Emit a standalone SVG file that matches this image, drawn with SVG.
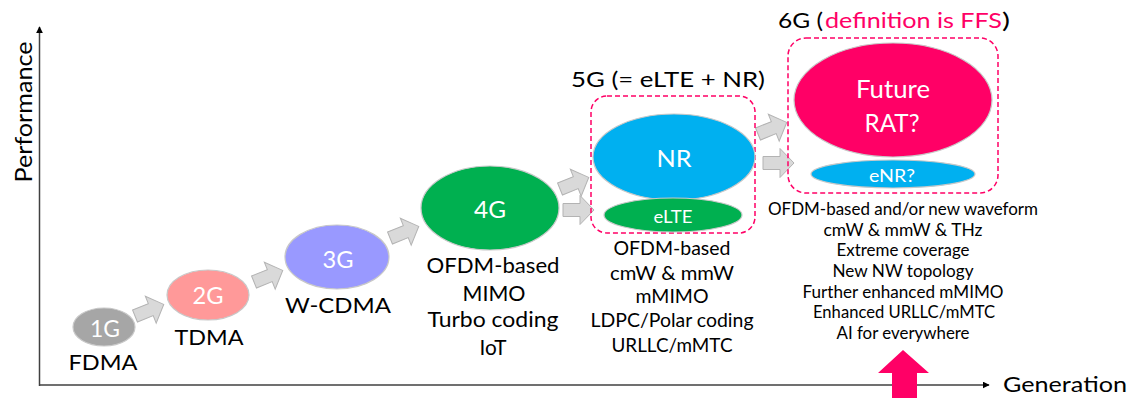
<svg xmlns="http://www.w3.org/2000/svg" width="1133" height="398" viewBox="0 0 1133 398">
<defs>
<style>
text{font-family:Lato,"Liberation Sans","DejaVu Sans",sans-serif;fill:#000;}
.w{fill:#fff;}
.m{text-anchor:middle;}
.box{fill:none;stroke:#ff0066;stroke-width:1.5;stroke-dasharray:5 3;}
.blk{fill:#d9d9d9;stroke:#b3b3b3;stroke-width:1;}
.el{stroke:#c8c8c8;stroke-width:1.2;}
.axis{stroke:#404040;stroke-width:1.5;fill:none;}
</style>
<path id="ba" d="M0,-6.5 L17,-6.5 L17,-14.5 L31,0 L17,14.5 L17,6.5 L0,6.5 Z"/>
<marker id="ah" viewBox="0 0 10 10" refX="9" refY="5" markerWidth="7" markerHeight="7" markerUnits="userSpaceOnUse" orient="auto"><path d="M0,0 L10,5 L0,10 Z" fill="#000"/></marker>
</defs>
<rect width="1133" height="398" fill="#fff"/>

<g id="axes">
<line class="axis" x1="39.5" y1="386" x2="39.5" y2="27" marker-end="url(#ah)"/>
<line class="axis" x1="39" y1="385" x2="989" y2="385" marker-end="url(#ah)"/>
<text transform="translate(32,112) rotate(-90)" class="m" font-size="23.5" textLength="141" lengthAdjust="spacingAndGlyphs">Performance</text>
<text x="1003" y="392" font-size="21" textLength="124" lengthAdjust="spacingAndGlyphs">Generation</text>
</g>

<g id="connectors">
<use href="#ba" class="blk" transform="translate(135,316) rotate(-22)"/>
<use href="#ba" class="blk" transform="translate(254,282) rotate(-22)"/>
<use href="#ba" class="blk" transform="translate(390,238) rotate(-22)"/>
<use href="#ba" class="blk" transform="translate(560,189) rotate(-22)"/>
<use href="#ba" class="blk" transform="translate(563,210)"/>
<use href="#ba" class="blk" transform="translate(758,134) rotate(-22)"/>
<use href="#ba" class="blk" transform="translate(763,163)"/>
</g>

<g id="n1G">
<ellipse class="el" cx="104" cy="327" rx="31" ry="19" fill="#a6a6a6"/>
<text x="105" y="337" class="m w" font-size="23" textLength="30" lengthAdjust="spacingAndGlyphs">1G</text>
<text x="103" y="370" class="m" font-size="22" textLength="69" lengthAdjust="spacingAndGlyphs">FDMA</text>
</g>

<g id="n2G">
<ellipse class="el" cx="208" cy="295" rx="41" ry="25" fill="#ff9999"/>
<text x="208" y="304" class="m w" font-size="23" textLength="31" lengthAdjust="spacingAndGlyphs">2G</text>
<text x="209" y="345" class="m" font-size="22" textLength="69" lengthAdjust="spacingAndGlyphs">TDMA</text>
</g>

<g id="n3G">
<ellipse class="el" cx="337" cy="257" rx="52" ry="32" fill="#9999ff"/>
<text x="338" y="268" class="m w" font-size="24" textLength="31" lengthAdjust="spacingAndGlyphs">3G</text>
<text x="338" y="313" class="m" font-size="22" textLength="106" lengthAdjust="spacingAndGlyphs">W-CDMA</text>
</g>

<g id="n4G">
<ellipse class="el" cx="490" cy="208" rx="69" ry="42" fill="#00b050"/>
<text x="490" y="218" class="m w" font-size="23" textLength="32" lengthAdjust="spacingAndGlyphs">4G</text>
<text x="493" y="273" class="m" font-size="22" textLength="133" lengthAdjust="spacingAndGlyphs">OFDM-based</text>
<text x="494" y="301" class="m" font-size="22" textLength="63" lengthAdjust="spacingAndGlyphs">MIMO</text>
<text x="493" y="327" class="m" font-size="22" textLength="131" lengthAdjust="spacingAndGlyphs">Turbo coding</text>
<text x="493" y="355" class="m" font-size="22" textLength="27" lengthAdjust="spacingAndGlyphs">IoT</text>
</g>

<g id="n5G">
<text x="668" y="87" class="m" font-size="22" textLength="194" lengthAdjust="spacingAndGlyphs">5G (= eLTE + NR)</text>
<rect class="box" x="591" y="96" width="164" height="137" rx="16"/>
<ellipse class="el" cx="674" cy="157" rx="81" ry="43" fill="#00b0f0"/>
<ellipse class="el" cx="673" cy="215" rx="69" ry="17" fill="#00b050"/>
<text x="674" y="167" class="m w" font-size="23" textLength="35" lengthAdjust="spacingAndGlyphs">NR</text>
<text x="673" y="223" class="m w" font-size="18" textLength="39" lengthAdjust="spacingAndGlyphs">eLTE</text>
<text x="672" y="255" class="m" font-size="19" textLength="117" lengthAdjust="spacingAndGlyphs">OFDM-based</text>
<text x="672" y="280" class="m" font-size="19" textLength="124" lengthAdjust="spacingAndGlyphs">cmW &amp; mmW</text>
<text x="672" y="303" class="m" font-size="19" textLength="73" lengthAdjust="spacingAndGlyphs">mMIMO</text>
<text x="672" y="327" class="m" font-size="19" textLength="163" lengthAdjust="spacingAndGlyphs">LDPC/Polar coding</text>
<text x="672" y="352" class="m" font-size="19" textLength="121" lengthAdjust="spacingAndGlyphs">URLLC/mMTC</text>
</g>

<g id="n6G">
<text x="778" y="28" font-size="22" textLength="45" lengthAdjust="spacingAndGlyphs">6G (</text>
<text x="825" y="28" font-size="22" style="fill:#ff0066" textLength="177" lengthAdjust="spacingAndGlyphs">definition is FFS</text>
<text x="1002" y="28" font-size="22" textLength="8" lengthAdjust="spacingAndGlyphs">)</text>
<rect class="box" x="788" y="38" width="210" height="155" rx="18"/>
<ellipse class="el" cx="893" cy="100" rx="99" ry="57" fill="#ff0066"/>
<ellipse class="el" cx="893" cy="174" rx="82" ry="14" fill="#00b0f0"/>
<text x="893" y="98" class="m w" font-size="25" textLength="74" lengthAdjust="spacingAndGlyphs">Future</text>
<text x="892" y="132" class="m w" font-size="25" textLength="55" lengthAdjust="spacingAndGlyphs">RAT?</text>
<text x="892" y="182" class="m w" font-size="18" textLength="46" lengthAdjust="spacingAndGlyphs">eNR?</text>
<text x="903" y="215" class="m" font-size="16.5" textLength="270" lengthAdjust="spacingAndGlyphs">OFDM-based and/or new waveform</text>
<text x="903" y="235.5" class="m" font-size="16.5" textLength="159" lengthAdjust="spacingAndGlyphs">cmW &amp; mmW &amp; THz</text>
<text x="903" y="256" class="m" font-size="16.5" textLength="133" lengthAdjust="spacingAndGlyphs">Extreme coverage</text>
<text x="903" y="277" class="m" font-size="16.5" textLength="141" lengthAdjust="spacingAndGlyphs">New NW topology</text>
<text x="903" y="297.5" class="m" font-size="16.5" textLength="201" lengthAdjust="spacingAndGlyphs">Further enhanced mMIMO</text>
<text x="904" y="318" class="m" font-size="16.5" textLength="182" lengthAdjust="spacingAndGlyphs">Enhanced URLLC/mMTC</text>
<text x="903" y="338.5" class="m" font-size="16.5" textLength="133" lengthAdjust="spacingAndGlyphs">AI for everywhere</text>
</g>

<g id="pinkArrow">
<path d="M903,350 L929,373 L917,373 L917,398 L892,398 L892,373 L878,373 Z" fill="#ff0066"/>
</g>
</svg>
